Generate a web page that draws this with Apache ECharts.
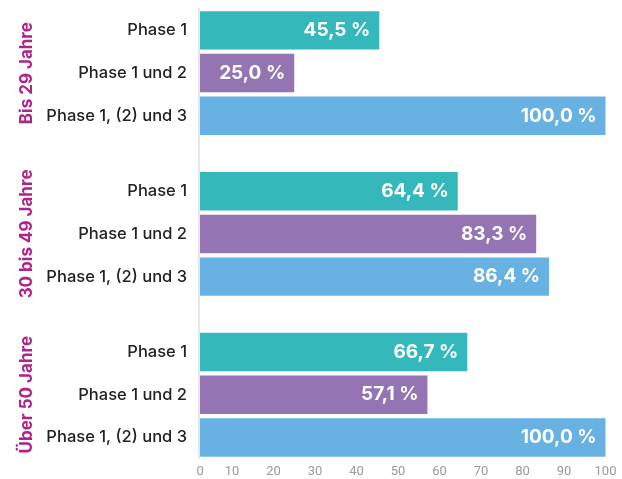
<!DOCTYPE html>
<html>
<head>
<meta charset="utf-8">
<script src="https://cdn.jsdelivr.net/npm/echarts@6/dist/echarts.min.js"></script>
<style>
html,body{margin:0;padding:0;background:#fff;}
#chart{width:622px;height:479px;}
</style>
</head>
<body>
<div id="chart"></div>
<script>
const groups = ["Bis 29 Jahre", "30 bis 49 Jahre", "Über 50 Jahre"];
const categories = ["Phase 1", "Phase 1 und 2", "Phase 1, (2) und 3"];
const valuesBis29 = [45.5, 25.0, 100.0];
const values30to49 = [64.4, 83.3, 86.4];
const valuesUeber50 = [66.7, 57.1, 100.0];
const xTicks = [0, 10, 20, 30, 40, 50, 60, 70, 80, 90, 100];

const groupValues = [valuesBis29, values30to49, valuesUeber50];
const barColors = ["#34b8bc", "#9474b2", "#67b2e2"];
const gridTops = [9, 169.8, 330.6];
const gridHeight = 128.2;
// in the reference the bars are cut slightly right of the axis zero
const barAxisStart = 2.3;

const chart = echarts.init(document.getElementById('chart'));
const grids = [], xAxes = [], yAxes = [], series = [];

groups.forEach((g, i) => {
  grids.push({ left: 200, right: 16.5, top: gridTops[i], height: gridHeight });
  xAxes.push({ gridIndex: i, type: 'value', min: barAxisStart, max: 100, show: false });
  yAxes.push({
    gridIndex: i, type: 'category', data: categories, inverse: true,
    axisLine: { show: false }, axisTick: { show: false },
    axisLabel: { color: '#222', fontSize: 16.5, fontWeight: 500, fontFamily: 'Inter', margin: 13 },
    name: g, nameLocation: 'middle', nameRotate: 90, nameGap: 163,
    nameTextStyle: { color: '#b0238b', fontSize: 17, fontWeight: 'bold', fontFamily: 'Inter' }
  });
  series.push({
    type: 'bar', xAxisIndex: i, yAxisIndex: i,
    barCategoryGap: '10%',
    data: groupValues[i].map((v, k) => ({ value: v, itemStyle: { color: barColors[k] } })),
    label: {
      show: true, position: 'insideRight', distance: 9,
      color: '#fff', fontSize: 19, fontWeight: 'bold', fontFamily: 'Inter',
      formatter: p => p.value.toFixed(1).replace('.', ',') + ' %'
    },
    silent: true
  });
});

// overall axis grid: continuous vertical axis line + bottom tick labels
grids.push({ left: 190.6, right: 16.5, top: 9, bottom: 20.4 });
xAxes.push({
  gridIndex: 3, type: 'value', min: xTicks[0], max: xTicks[xTicks.length - 1], interval: 10,
  axisLine: { show: false }, axisTick: { show: false }, splitLine: { show: false },
  axisLabel: {
    color: '#9a9a9a', fontSize: 13, fontFamily: 'Roboto', margin: 7,
    formatter: v => v === xTicks[0] ? '{z|' + v + '}' : String(v),
    rich: { z: { color: '#9a9a9a', fontSize: 13, fontFamily: 'Roboto', padding: [0, 0, 0, 19] } }
  }
});
yAxes.push({
  gridIndex: 3, type: 'value', min: 0, max: 1,
  axisLine: { show: false }, axisTick: { show: false }, axisLabel: { show: false }, splitLine: { show: false }
});
// vertical axis line at the bars' start
grids.push({ left: 199, right: 16.5, top: 9, bottom: 20.4 });
xAxes.push({ gridIndex: 4, type: 'value', min: 0, max: 1, show: false });
yAxes.push({
  gridIndex: 4, type: 'value', min: 0, max: 1,
  axisLine: { show: true, lineStyle: { color: '#e6e6e6', width: 2 } },
  axisTick: { show: false }, axisLabel: { show: false }, splitLine: { show: false }
});

chart.setOption({
  animation: false,
  backgroundColor: '#fff',
  grid: grids, xAxis: xAxes, yAxis: yAxes, series: series
});
</script>
</body>
</html>
